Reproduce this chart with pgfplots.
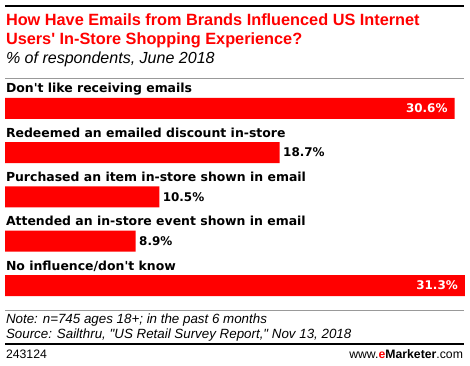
\documentclass[border=0pt]{standalone}
\usepackage{pgfplots}
\pgfplotsset{compat=1.18}
\usepackage{fontspec}
\setmainfont{Liberation Sans}
\newfontfamily\lsans{Liberation Sans}
\newfontfamily\dsans{DejaVu Sans}
\definecolor{emred}{HTML}{FF0000}
\definecolor{rulegray}{HTML}{999999}
\begin{document}
\begin{tikzpicture}[x=1bp,y=1bp,every node/.style={inner sep=0pt,outer sep=0pt}]
\useasboundingbox[fill=white] (0,0) rectangle (470,365);
% top rule
\draw[black, line width=2.2bp] (5,359) -- (464,359);
% title
\node[anchor=base west, text=emred, font=\lsans\bfseries\fontsize{16.35}{18}\selectfont] at (6,340) {How Have Emails from Brands Influenced US Internet};
\node[anchor=base west, text=emred, font=\lsans\bfseries\fontsize{16.35}{18}\selectfont] at (6,321) {Users' In-Store Shopping Experience?};
\node[anchor=base west, font=\lsans\itshape\fontsize{16.1}{18}\selectfont] at (6,302) {\% of respondents, June 2018};
\draw[rulegray, line width=1bp] (5,286.7) -- (464,286.7);
\begin{axis}[
  at={(5bp,57.35bp)}, anchor=south west,
  scale only axis, width=459.8bp, height=221.5bp,
  xmin=0, xmax=31.3, ymin=-0.5, ymax=4.5,
  y dir=reverse, axis lines=none, xbar, bar width=21bp, bar shift=0pt,
  point meta=x,
  /pgf/number format/assume math mode=true,
  nodes near coords={\pgfmathprintnumber[fixed,precision=1,fixed zerofill]{\pgfplotspointmeta}\%},
  every node near coord/.append style={font=\dsans\bfseries\fontsize{12}{14}\selectfont, inner sep=0pt},
  clip=false,
]
\addplot[fill=emred, draw=none, every node near coord/.append style={anchor=east, text=white, xshift=-7bp}] coordinates {(30.6,0) (31.3,4)};
\addplot[fill=emred, draw=none, every node near coord/.append style={anchor=west, text=black, xshift=3.5bp}] coordinates {(18.7,1) (10.5,2) (8.9,3)};
\node[anchor=base west, font=\dsans\bfseries\fontsize{12.5}{15}\selectfont] at (axis cs:0,0) [yshift=15.5bp, xshift=1bp] {Don't like receiving emails};
\node[anchor=base west, font=\dsans\bfseries\fontsize{12.5}{15}\selectfont] at (axis cs:0,1) [yshift=15.5bp, xshift=1bp] {Redeemed an emailed discount in-store};
\node[anchor=base west, font=\dsans\bfseries\fontsize{12.5}{15}\selectfont] at (axis cs:0,2) [yshift=15.5bp, xshift=1bp] {Purchased an item in-store shown in email};
\node[anchor=base west, font=\dsans\bfseries\fontsize{12.5}{15}\selectfont] at (axis cs:0,3) [yshift=15.5bp, xshift=1bp] {Attended an in-store event shown in email};
\node[anchor=base west, font=\dsans\bfseries\fontsize{12.5}{15}\selectfont] at (axis cs:0,4) [yshift=15.5bp, xshift=1bp] {No influence/don't know};
\end{axis}
\draw[rulegray, line width=1bp] (5,55) -- (464,55);
\node[anchor=base west, font=\lsans\itshape\fontsize{13.4}{15}\selectfont] at (6,41.7) {Note: n=745 ages 18+; in the past 6 months};
\node[anchor=base west, font=\lsans\itshape\fontsize{13.4}{15}\selectfont] at (6,26.7) {Source: Sailthru, "US Retail Survey Report," Nov 13, 2018};
\draw[black, line width=2.2bp] (5,21) -- (464,21);
\node[anchor=base west, font=\lsans\fontsize{12.3}{13}\selectfont] at (6,7) {243124};
\node[anchor=base east, font=\lsans\fontsize{12.3}{13}\selectfont] at (463,7) {www.\textcolor{emred}{\bfseries e}\textbf{Marketer}.com};
\end{tikzpicture}
\end{document}
